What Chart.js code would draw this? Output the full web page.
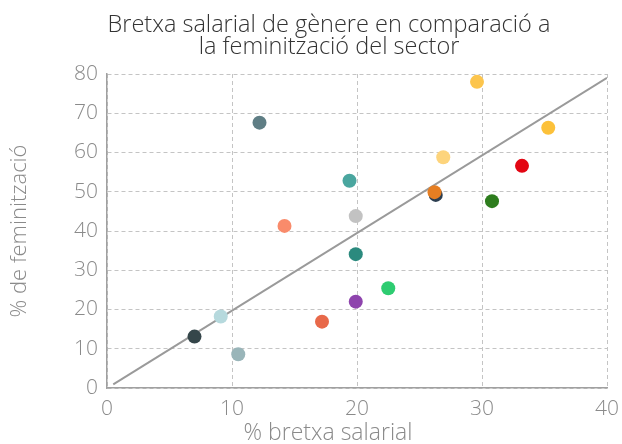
<!DOCTYPE html>
<html>
<head>
<meta charset="utf-8">
<script src="https://cdn.jsdelivr.net/npm/chart.js@4"></script>
<style>
    html, body { margin: 0; padding: 0; background: #fff; }
    #wrap { width: 622px; height: 444px; }
</style>
</head>
<body>
<div id="wrap"><canvas id="gapChart" width="622" height="444"></canvas></div>
<script>
// ========== DATA ==========
const gapValues = [12.2, 19.4, 19.9, 14.2, 29.6, 35.3, 26.9, 33.2, 26.3, 26.2, 30.8, 19.9, 22.5, 19.9, 17.2, 9.1, 7.0, 10.5];
const femValues = [67.6, 52.8, 43.8, 41.3, 78.0, 66.3, 58.8, 56.6, 49.2, 49.9, 47.6, 34.1, 25.4, 22.0, 16.9, 18.2, 13.1, 8.6];
const pointColors = ['#5f7e85', '#4aa69f', '#c2c2c2', '#f98b6b', '#fcc54d', '#fcc13a', '#fdd47c', '#e30613',
                     '#2c3e50', '#e67e22', '#2e7d1e', '#2b8a7e', '#2ecc71', '#8e44ad', '#e8694a', '#b6d9dd',
                     '#35464a', '#99b5b9'];
const trendX = [0.5, 40];
const trendY = [0.9, 79];
const xTicks = [0, 10, 20, 30, 40];
const yTicks = [0, 10, 20, 30, 40, 50, 60, 70, 80];

const titleLines = ['Bretxa salarial de gènere en comparació a', 'la feminització del sector'];
const xTitle = '% bretxa salarial';
const yTitle = '% de feminització';

const FONT = '"Open Sans", "Liberation Sans", sans-serif';

// ========== CUSTOM TITLES ==========
// main title and x title sit a bit left of the plot centre, so draw them by hand
const titlesPlugin = {
    id: 'titles',
    afterDraw(chart) {
        const c = chart.ctx;
        c.save();
        c.textAlign = 'center';
        c.textBaseline = 'alphabetic';
        c.fillStyle = '#333';
        c.font = '300 23.5px ' + FONT;
        c.fillText(titleLines[0], 329, 32);
        c.fillText(titleLines[1], 329, 54);
        c.fillStyle = '#8a8a8a';
        c.font = '300 23px ' + FONT;
        c.fillText(xTitle, 328, 440);
        c.restore();
    }
};

// ========== CHART ==========
const ctx = document.getElementById('gapChart').getContext('2d');
new Chart(ctx, {
    type: 'scatter',
    data: {
        datasets: [
            {
                type: 'line',
                data: trendX.map((x, i) => ({ x: x, y: trendY[i] })),
                borderColor: '#9a9a9a',
                borderWidth: 2,
                pointRadius: 0,
                fill: false,
                order: 2
            },
            {
                data: gapValues.map((x, i) => ({ x: x, y: femValues[i] })),
                pointBackgroundColor: pointColors,
                pointBorderWidth: 0,
                pointRadius: 7,
                pointHoverRadius: 7,
                order: 1
            }
        ]
    },
    options: {
        responsive: false,
        animation: false,
        layout: { padding: { left: 0, right: 15, top: 74, bottom: 0 } },
        plugins: {
            legend: { display: false },
            tooltip: { enabled: false },
            title: { display: false }
        },
        scales: {
            x: {
                type: 'linear',
                min: 0,
                max: 40,
                afterBuildTicks: axis => { axis.ticks = xTicks.map(v => ({ value: v })); },
                afterFit: axis => {
                    axis.height = 56;
                    axis.paddingLeft = 0;
                    axis.paddingRight = 0;
                },
                grid: { color: '#c4c4c4', lineWidth: 1, drawTicks: false },
                border: { display: true, color: '#a0a0a0', dash: [4, 3], width: 1.5 },
                ticks: { color: '#8a8a8a', padding: 8, font: { family: FONT, size: 21, weight: 300 } }
            },
            y: {
                type: 'linear',
                min: 0,
                max: 80,
                afterBuildTicks: axis => { axis.ticks = yTicks.map(v => ({ value: v })); },
                afterFit: axis => {
                    axis.width = 107;
                    axis.paddingTop = 0;
                    axis.paddingBottom = 0;
                },
                grid: { color: '#c4c4c4', lineWidth: 1, drawTicks: false },
                border: { display: true, color: '#a0a0a0', dash: [4, 3], width: 1.5 },
                ticks: { color: '#8a8a8a', padding: 9, font: { family: FONT, size: 21, weight: 300 } },
                title: {
                    display: true,
                    text: yTitle,
                    color: '#8a8a8a',
                    padding: { top: 7, bottom: 0 },
                    font: { family: FONT, size: 22, weight: 300 }
                }
            }
        }
    },
    plugins: [titlesPlugin]
});
</script>
</body>
</html>
